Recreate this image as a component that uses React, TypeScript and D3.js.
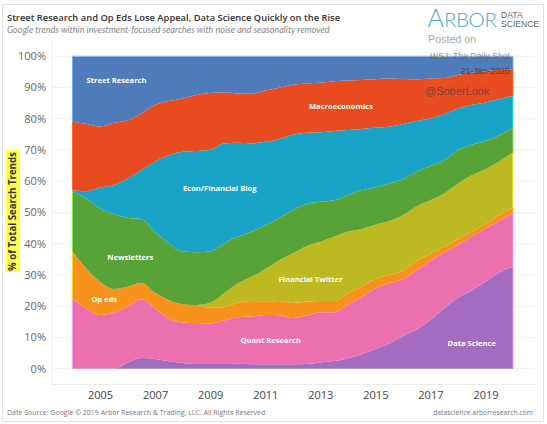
import { useEffect, useRef } from "react"
import * as d3 from "d3"

// half-year steps
const years = [
  2004, 2004.5, 2005, 2005.5, 2006, 2006.5, 2007, 2007.5, 2008, 2008.5, 2009, 2009.5, 2010, 2010.5, 2011, 2011.5, 2012,
  2012.5, 2013, 2013.5, 2014, 2014.5, 2015, 2015.5, 2016, 2016.5, 2017, 2017.5, 2018, 2018.5, 2019, 2019.5, 2020,
]

// top edge of each stacked band, in % (bottom band first)
const dataScience = [0, 0, 0, 0, 1.9, 3.4, 3.1, 2.4, 1.8, 1.5, 1.5, 1.5, 1.6, 1.4, 1.4, 1.4, 1.4, 1.5, 2, 2.5, 3.3, 4.6, 6.2, 8.1, 10.4, 12.6, 15.6, 19.3, 22.7, 25, 27.8, 30.8, 32.6]
const quantResearch = [22.4, 19.3, 17.2, 17.9, 19.8, 22.2, 19.3, 16.1, 14.8, 14.6, 14.5, 15.4, 16.5, 16.7, 17.2, 17.1, 16.2, 17, 18.1, 18.1, 20.4, 23, 25.7, 27.3, 28.6, 31.6, 34.5, 37.2, 39.6, 42.2, 44.9, 47.3, 49.7]
const opEds = [37.4, 32.1, 27.8, 25.5, 26.2, 27.5, 24.3, 22, 20.6, 20.4, 19.5, 19.7, 21.1, 21.7, 21.6, 21.7, 21, 21.5, 21.7, 21.7, 24.1, 26.2, 28.7, 30, 31.3, 34.5, 36.7, 39, 41.4, 43.8, 46.3, 49.1, 51.6]
const financialTwitter = [37.4, 32.1, 27.8, 25.5, 26.2, 27.5, 24.3, 22, 20.6, 20.4, 21.1, 24.1, 27.3, 29.4, 31.8, 34.7, 36.9, 39.2, 40.6, 42.2, 43.8, 44.7, 46.1, 47.3, 49.1, 52, 53.9, 56.1, 59.3, 61.9, 63.8, 66.4, 69.2]
const newsletters = [56.6, 54.5, 51.3, 49.5, 48.3, 47.9, 43.8, 40.1, 37.6, 37.3, 37.6, 40.1, 42.2, 43.8, 45.9, 48.2, 50.7, 52.7, 53.4, 53.9, 55.5, 57.1, 58, 59.3, 60.6, 63, 64.9, 66.7, 69.9, 71.7, 72.9, 74.7, 77.1]
const econBlog = [57.1, 56.8, 58, 58.7, 60.9, 63.5, 66.2, 68.3, 69.4, 69.7, 70.1, 72.1, 72.3, 72.1, 72.6, 73.4, 74.9, 75.5, 75.7, 76.1, 76.4, 76.7, 77.1, 77.4, 78.3, 79.3, 80.1, 81.5, 83.3, 84.4, 85.2, 86.3, 87.3]
const macroeconomics = [79, 78.3, 77.5, 78.7, 79.4, 81.7, 84.4, 85.7, 86.5, 87.6, 88.2, 88.5, 88.1, 88, 89, 89.9, 90.9, 91.3, 91.5, 92, 92.2, 92.4, 92.6, 92.9, 92.7, 92.6, 92.9, 93, 94, 94.7, 95.2, 95.6, 95.8]
const streetResearch = years.map(() => 100)

const bands = [dataScience, quantResearch, opEds, financialTwitter, newsletters, econBlog, macroeconomics, streetResearch]
const colors = ["#a36cc0", "#ec70ae", "#f8921a", "#bcba20", "#57a338", "#19a3c7", "#e94c20", "#4f7cba"]

const yTicks = [0, 10, 20, 30, 40, 50, 60, 70, 80, 90, 100]
const xTicks = [2005, 2007, 2009, 2011, 2013, 2015, 2017, 2019]

const bandLabels: [string, number, number][] = [
  ["Street Research", 2005.6, 91.4],
  ["Macroeconomics", 2013.75, 83],
  ["Econ/Financial Blog", 2009.35, 56.8],
  ["Newsletters", 2006.1, 34.7],
  ["Op eds", 2005.15, 21.2],
  ["Financial Twitter", 2012.65, 27.8],
  ["Quant Research", 2011.2, 8.2],
  ["Data Science", 2018.5, 7.4],
]

const sans = "'Open Sans', 'Noto Sans', sans-serif"
const plain = "'Liberation Sans', sans-serif"

export default function App() {
  const svgRef = useRef<SVGSVGElement>(null)

  useEffect(() => {
    if (!svgRef.current) return
    const svg = d3.select(svgRef.current)
    svg.selectAll("*").remove()

    const x = d3.scaleLinear().domain([2004, 2020]).range([72.5, 513])
    const y = d3.scaleLinear().domain([0, 100]).range([368.7, 56.2])

    // outer frame
    svg.append("rect").attr("x", 2.5).attr("y", 4.5).attr("width", 541).attr("height", 417).attr("fill", "#fff").attr("stroke", "#e2e2e2")

    // grid
    const grid = svg.append("g")
    grid
      .selectAll("line")
      .data(yTicks)
      .join("line")
      .attr("x1", 52)
      .attr("x2", 535)
      .attr("y1", (d) => y(d))
      .attr("y2", (d) => y(d))
      .attr("stroke", "#f1f1f1")
    grid.append("line").attr("x1", 52).attr("x2", 52).attr("y1", 40).attr("y2", 384.5).attr("stroke", "#f1f1f1")
    grid.append("line").attr("x1", 52).attr("x2", 535).attr("y1", 384.5).attr("y2", 384.5).attr("stroke", "#ececec")

    // stacked areas
    const area = d3
      .area<number>()
      .x((_, i) => x(years[i]))
      .curve(d3.curveMonotoneX)

    bands.forEach((band, b) => {
      svg
        .append("path")
        .attr("fill", colors[b])
        .attr("d", area.y0((_, i) => y(b === 0 ? 0 : bands[b - 1][i])).y1((d) => y(d))(band))

      // lighter edge on both ends of the band
      const edge = d3.color(colors[b])!.brighter(1).formatHex()
      ;[0, band.length - 1].forEach((i) => {
        svg
          .append("line")
          .attr("x1", x(years[i]))
          .attr("x2", x(years[i]))
          .attr("y1", y(b === 0 ? 0 : bands[b - 1][i]))
          .attr("y2", y(band[i]))
          .attr("stroke", edge)
      })
    })
    svg.append("line").attr("x1", x(2004)).attr("x2", x(2020)).attr("y1", y(100)).attr("y2", y(100)).attr("stroke", "#9dbce6")

    // axes
    const yAxis = svg
      .append("g")
      .attr("transform", "translate(49,0)")
      .call(d3.axisLeft(y).tickValues(yTicks).tickSize(0).tickFormat((d) => `${d}%`))
    const xAxis = svg
      .append("g")
      .attr("transform", "translate(0,386)")
      .call(d3.axisBottom(x).tickValues(xTicks).tickSize(0).tickPadding(5).tickFormat((d) => `${d}`))
    yAxis.select(".domain").remove()
    xAxis.select(".domain").remove()
    yAxis.selectAll("text").attr("font-family", sans).attr("font-size", 11).attr("fill", "#666")
    xAxis.selectAll("text").attr("font-family", sans).attr("font-size", 11).attr("fill", "#444")

    // band labels
    svg
      .append("g")
      .selectAll("text")
      .data(bandLabels)
      .join("text")
      .attr("x", (d) => x(d[1]))
      .attr("y", (d) => y(d[2]))
      .attr("text-anchor", "middle")
      .attr("font-family", sans)
      .attr("font-size", 7.6)
      .attr("font-weight", 700)
      .attr("fill", "#fff")
      .text((d) => d[0])

    // titles
    svg.append("text").attr("x", 7).attr("y", 20.7).attr("font-family", sans).attr("font-size", 9.4).attr("font-weight", 600).attr("fill", "#333").text("Street Research and Op Eds Lose Appeal, Data Science Quickly on the Rise")
    svg.append("text").attr("x", 7).attr("y", 32.7).attr("font-family", "Lato, sans-serif").attr("font-size", 9.05).attr("font-style", "italic").attr("fill", "#888").text("Google trends within investment-focused searches with noise and seasonality removed")

    // y axis title
    svg.append("rect").attr("x", 5.5).attr("y", 150).attr("width", 14.5).attr("height", 122).attr("fill", "#ffff4d")
    svg.append("text").attr("transform", "translate(15.8,211.5) rotate(-90)").attr("text-anchor", "middle").attr("font-family", sans).attr("font-size", 9.7).attr("font-weight", 700).attr("fill", "#333").text("% of Total Search Trends")

    // logo and watermark
    const logo = svg.append("text").attr("x", 427.5).attr("y", 26.7).attr("font-family", "Lato, sans-serif").attr("font-weight", 300).attr("fill", "#4ea5cb")
    logo.append("tspan").attr("font-size", 25).text("A")
    logo.append("tspan").attr("font-size", 20.5).attr("textLength", 53).text("RBOR")
    svg.append("text").attr("x", 501).attr("y", 17.7).attr("font-family", plain).attr("font-size", 8.6).attr("fill", "#666").text("DATA")
    svg.append("text").attr("x", 501).attr("y", 26.7).attr("font-family", plain).attr("font-size", 8.6).attr("fill", "#666").text("SCIENCE")
    svg.append("text").attr("x", 428).attr("y", 42.7).attr("font-family", plain).attr("font-size", 10.7).attr("fill", "#aaa").text("Posted on")
    svg.append("text").attr("x", 510).attr("y", 58.5).attr("text-anchor", "end").attr("font-family", plain).attr("font-size", 8.7).attr("fill", "#666").attr("fill-opacity", 0.7).text("WSJ: The Daily Shot")
    svg.append("text").attr("x", 509.5).attr("y", 74).attr("text-anchor", "end").attr("font-family", plain).attr("font-size", 8.7).attr("fill", "#333").attr("fill-opacity", 0.75).text("21-Jan-2020")
    svg.append("text").attr("x", 425).attr("y", 95).attr("font-family", plain).attr("font-size", 11).attr("fill", "#444").attr("fill-opacity", 0.75).text("@SoberLook")

    // footer
    svg.append("text").attr("x", 7).attr("y", 415).attr("font-family", sans).attr("font-size", 7).attr("fill", "#777").text("Date Source: Google © 2019 Arbor Research & Trading, LLC. All Rights Reserved")
    svg.append("text").attr("x", 533).attr("y", 415).attr("text-anchor", "end").attr("font-family", sans).attr("font-size", 6.8).attr("fill", "#777").text("datascience.arborresearch.com")
  }, [])

  return <svg ref={svgRef} width={547} height={424} style={{ position: "absolute", left: 0, top: 0, background: "#fff" }} />
}
